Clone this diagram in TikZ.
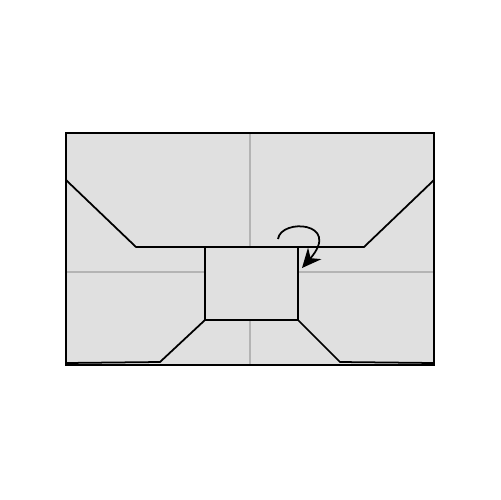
\documentclass[tikz,border=0pt]{standalone}
\usetikzlibrary{arrows.meta}
\definecolor{paper}{HTML}{E0E0E0}
\definecolor{crease}{HTML}{B4B4B4}
\begin{document}
\begin{tikzpicture}[x=0.02cm, y=-0.02cm]
        \useasboundingbox (0, 0) rectangle (500, 500);
        \begin{scope}[line join=miter]
          \fill[paper] (66, 133) rectangle (434, 365);
          % Creases
          \draw[crease, line width=0.8pt] (250, 133) -- (250, 247);
          \draw[crease, line width=0.8pt] (250, 320) -- (250, 365);
          \draw[crease, line width=0.8pt] (66, 272) -- (205, 272);
          \draw[crease, line width=0.8pt] (298, 272) -- (434, 272);
          % Outline
          \draw[line width=1.1pt] (66, 133) rectangle (434, 365);
          \draw[line width=1pt] (66, 180) -- (136, 247) -- (364, 247) -- (434, 180);
          \draw[line width=1pt] (205, 247) rectangle (298, 320);
          \draw[line width=1pt] (66, 363) -- (160, 362) -- (205, 320);
          \draw[line width=1pt] (434, 363) -- (340, 362) -- (298, 320);
          % Turn over
          \draw[line width=1pt, -{Stealth[length=11pt, width=10pt]}] (278, 239) .. controls (281, 218) and (342, 222) .. (302, 268);
        \end{scope}
      \end{tikzpicture}
\end{document}
